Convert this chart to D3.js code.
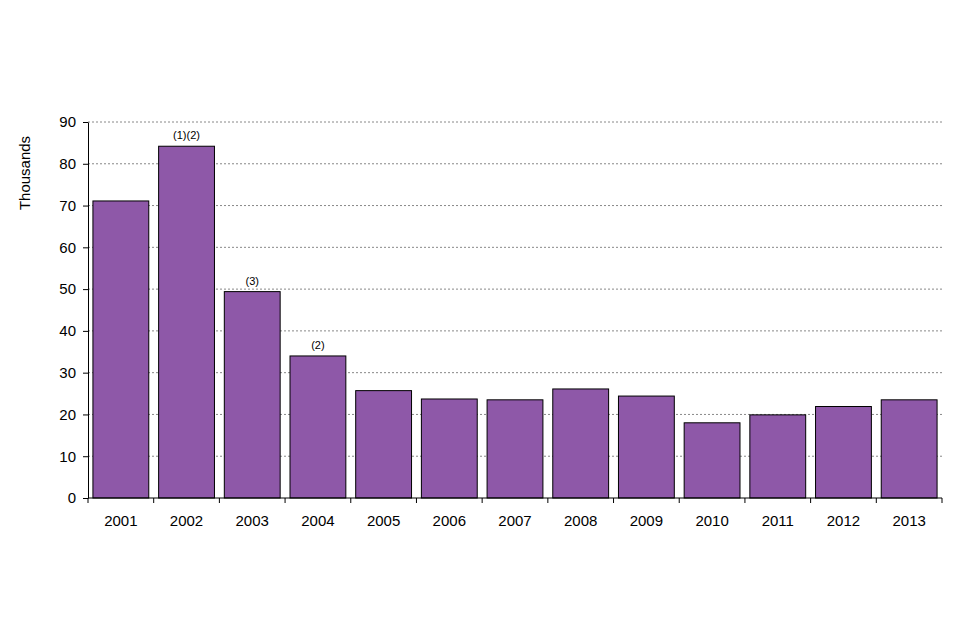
<!DOCTYPE html>
<html>
<head>
<meta charset="utf-8">
<script src="https://cdn.jsdelivr.net/npm/d3@7"></script>
<style>
  body { margin: 0; background: #fff; }
  text { font-family: "Liberation Sans", Arial, sans-serif; }
</style>
</head>
<body>
<svg id="chart" width="960" height="640"></svg>
<script>
// Chart data
var years = ["2001","2002","2003","2004","2005","2006","2007","2008","2009","2010","2011","2012","2013"];
var values = [71.1, 84.2, 49.4, 34, 25.7, 23.7, 23.5, 26.1, 24.4, 18, 19.9, 21.9, 23.5];
var notes = ["", "(1)(2)", "(3)", "(2)", "", "", "", "", "", "", "", "", ""];
var yTicks = [0, 10, 20, 30, 40, 50, 60, 70, 80, 90];

var svg = d3.select("#chart");
var margin = { left: 88, right: 18, top: 122, bottom: 142 };
var w = 960 - margin.left - margin.right;
var h = 640 - margin.top - margin.bottom;
var g = svg.append("g").attr("transform", `translate(${margin.left},${margin.top})`);

var x = d3.scaleBand().domain(years).range([0, w]).paddingInner(0.15).paddingOuter(0.075);
var y = d3.scaleLinear().domain([0, 90]).range([h, 0]);

// dotted gridlines
g.selectAll(".grid").data(yTicks.slice(1)).enter().append("line")
  .attr("x1", 0).attr("x2", w)
  .attr("y1", d => y(d)).attr("y2", d => y(d))
  .attr("stroke", "#888").attr("stroke-width", 1).attr("stroke-dasharray", "2,2");

// bars
g.selectAll(".bar").data(values).enter().append("rect")
  .attr("x", (d, i) => x(years[i]))
  .attr("y", d => y(d))
  .attr("width", x.bandwidth())
  .attr("height", d => h - y(d))
  .attr("fill", "#8e58a8").attr("stroke", "#000").attr("stroke-width", 1);

// footnote labels
g.selectAll(".note").data(values).enter().append("text")
  .attr("x", (d, i) => x(years[i]) + x.bandwidth() / 2)
  .attr("y", d => y(d) - 7)
  .attr("text-anchor", "middle").attr("font-size", 11)
  .text((d, i) => notes[i]);

// y axis
var yAxis = g.append("g").call(d3.axisLeft(y).tickValues(yTicks).tickSize(5).tickSizeOuter(0));
yAxis.selectAll("text").attr("font-size", 15).attr("fill", "#000").attr("dx", -4);
yAxis.selectAll("line, path").attr("stroke", "#000");

// x axis: baseline with ticks between categories
var xg = g.append("g").attr("transform", `translate(0,${h})`);
xg.append("line").attr("x1", 0).attr("x2", w).attr("stroke", "#000");
var step = x.step();
xg.selectAll(".xt").data(d3.range(years.length + 1)).enter().append("line")
  .attr("x1", i => i * step).attr("x2", i => i * step)
  .attr("y1", 0).attr("y2", 5).attr("stroke", "#000");
xg.selectAll(".xl").data(years).enter().append("text")
  .attr("x", d => x(d) + x.bandwidth() / 2).attr("y", 28)
  .attr("text-anchor", "middle").attr("font-size", 15).text(d => d);

// y title
svg.append("text")
  .attr("transform", "translate(30,173) rotate(-90)")
  .attr("text-anchor", "middle").attr("font-size", 15).text("Thousands");
</script>
</body>
</html>
